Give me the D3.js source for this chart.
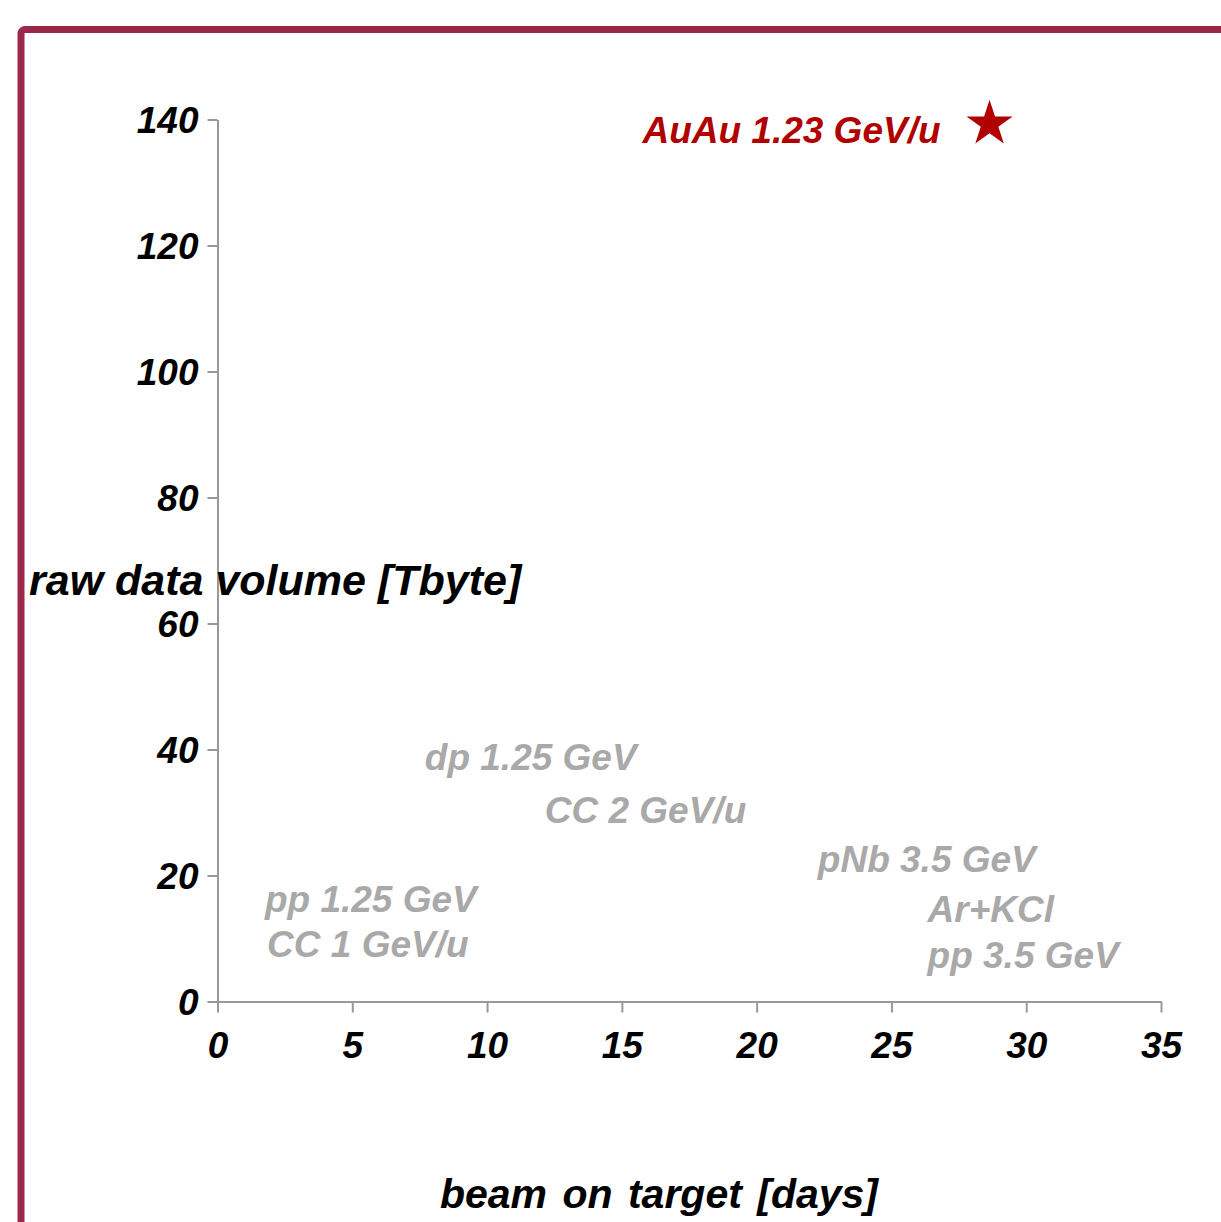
<!DOCTYPE html>
<html>
<head>
<meta charset="utf-8">
<script src="https://cdn.jsdelivr.net/npm/d3@7"></script>
<style>
    body { margin: 0; background: #fff; }
    svg { display: block; }
    text { font-family: "Liberation Sans", Arial, sans-serif; font-weight: bold; font-style: italic; }
</style>
</head>
<body>
<div id="chart"></div>
<script>
// runs shown in grey (label anchor: days, Tbyte)
const runNames = ['pp 1.25 GeV', 'CC 1 GeV/u', 'dp 1.25 GeV', 'CC 2 GeV/u', 'pNb 3.5 GeV', 'Ar+KCl', 'pp 3.5 GeV'];
const runDays = [1.76, 1.84, 7.69, 12.14, 22.27, 26.34, 26.34];
const runVolume = [14.2, 7.1, 36.7, 28.3, 20.6, 12.6, 5.3];

// highlighted run
const mainName = 'AuAu 1.23 GeV/u';
const mainDays = 28.64;
const mainVolume = 140;

const xTicks = [0, 5, 10, 15, 20, 25, 30, 35];
const yTicks = [0, 20, 40, 60, 80, 100, 120, 140];

const width = 1221;
const height = 1222;

const svg = d3.select('#chart').append('svg')
    .attr('width', width)
    .attr('height', height);

// slide frame
svg.append('rect')
    .attr('x', 21)
    .attr('y', 29.5)
    .attr('width', 1400)
    .attr('height', 1400)
    .attr('rx', 4)
    .style('fill', 'none')
    .style('stroke', '#9c274b')
    .style('stroke-width', 7);

const x = d3.scaleLinear().domain([0, 35]).range([217.5, 1161]);
const y = d3.scaleLinear().domain([0, 140]).range([1001.5, 119.5]);

const xAxis = svg.append('g')
    .attr('transform', `translate(0,${y(0)})`)
    .call(d3.axisBottom(x).tickValues(xTicks).tickSize(11).tickSizeOuter(0).tickPadding(14));

const yAxis = svg.append('g')
    .attr('transform', `translate(${x(0)},0)`)
    .call(d3.axisLeft(y).tickValues(yTicks).tickSize(10).tickSizeOuter(0).tickPadding(10));

for (const axis of [xAxis, yAxis]) {
    axis.select('.domain').style('stroke', '#999').style('stroke-width', 2);
    axis.selectAll('.tick line').style('stroke', '#999').style('stroke-width', 2);
    axis.selectAll('.tick text')
        .style('fill', '#000')
        .style('font-size', '37px')
        .style('font-family', '"Liberation Sans", Arial, sans-serif');
}
xAxis.selectAll('.tick text').attr('dy', null).attr('y', 56);
yAxis.selectAll('.tick text').attr('dy', '0.36em').attr('x', -19);

// axis titles
svg.append('text')
    .attr('x', 29)
    .attr('y', 595)
    .style('font-size', '43px')
    .style('fill', '#000')
    .text('raw data volume [Tbyte]');

svg.append('text')
    .attr('x', 659)
    .attr('y', 1208)
    .attr('text-anchor', 'middle')
    .style('font-size', '41px')
    .style('fill', '#000')
    .style('word-spacing', '4px')
    .text('beam on target [days]');

// grey run labels
const runs = runNames.map((name, i) => ({ name, days: runDays[i], volume: runVolume[i] }));
svg.selectAll('text.run')
    .data(runs)
    .enter().append('text')
    .attr('class', 'run')
    .attr('x', d => x(d.days))
    .attr('y', d => y(d.volume))
    .style('font-size', '37px')
    .style('fill', '#a9a9a9')
    .text(d => d.name);

// highlighted run: star + label
svg.append('path')
    .attr('d', d3.symbol().type(d3.symbolStar).size(660)())
    .attr('transform', `translate(${x(mainDays)},${y(mainVolume) + 4.5})`)
    .style('fill', '#b00000');

svg.append('text')
    .attr('x', x(mainDays) - 49)
    .attr('y', y(mainVolume) + 23)
    .attr('text-anchor', 'end')
    .style('font-size', '37px')
    .style('fill', '#b00000')
    .text(mainName);
</script>
</body>
</html>
